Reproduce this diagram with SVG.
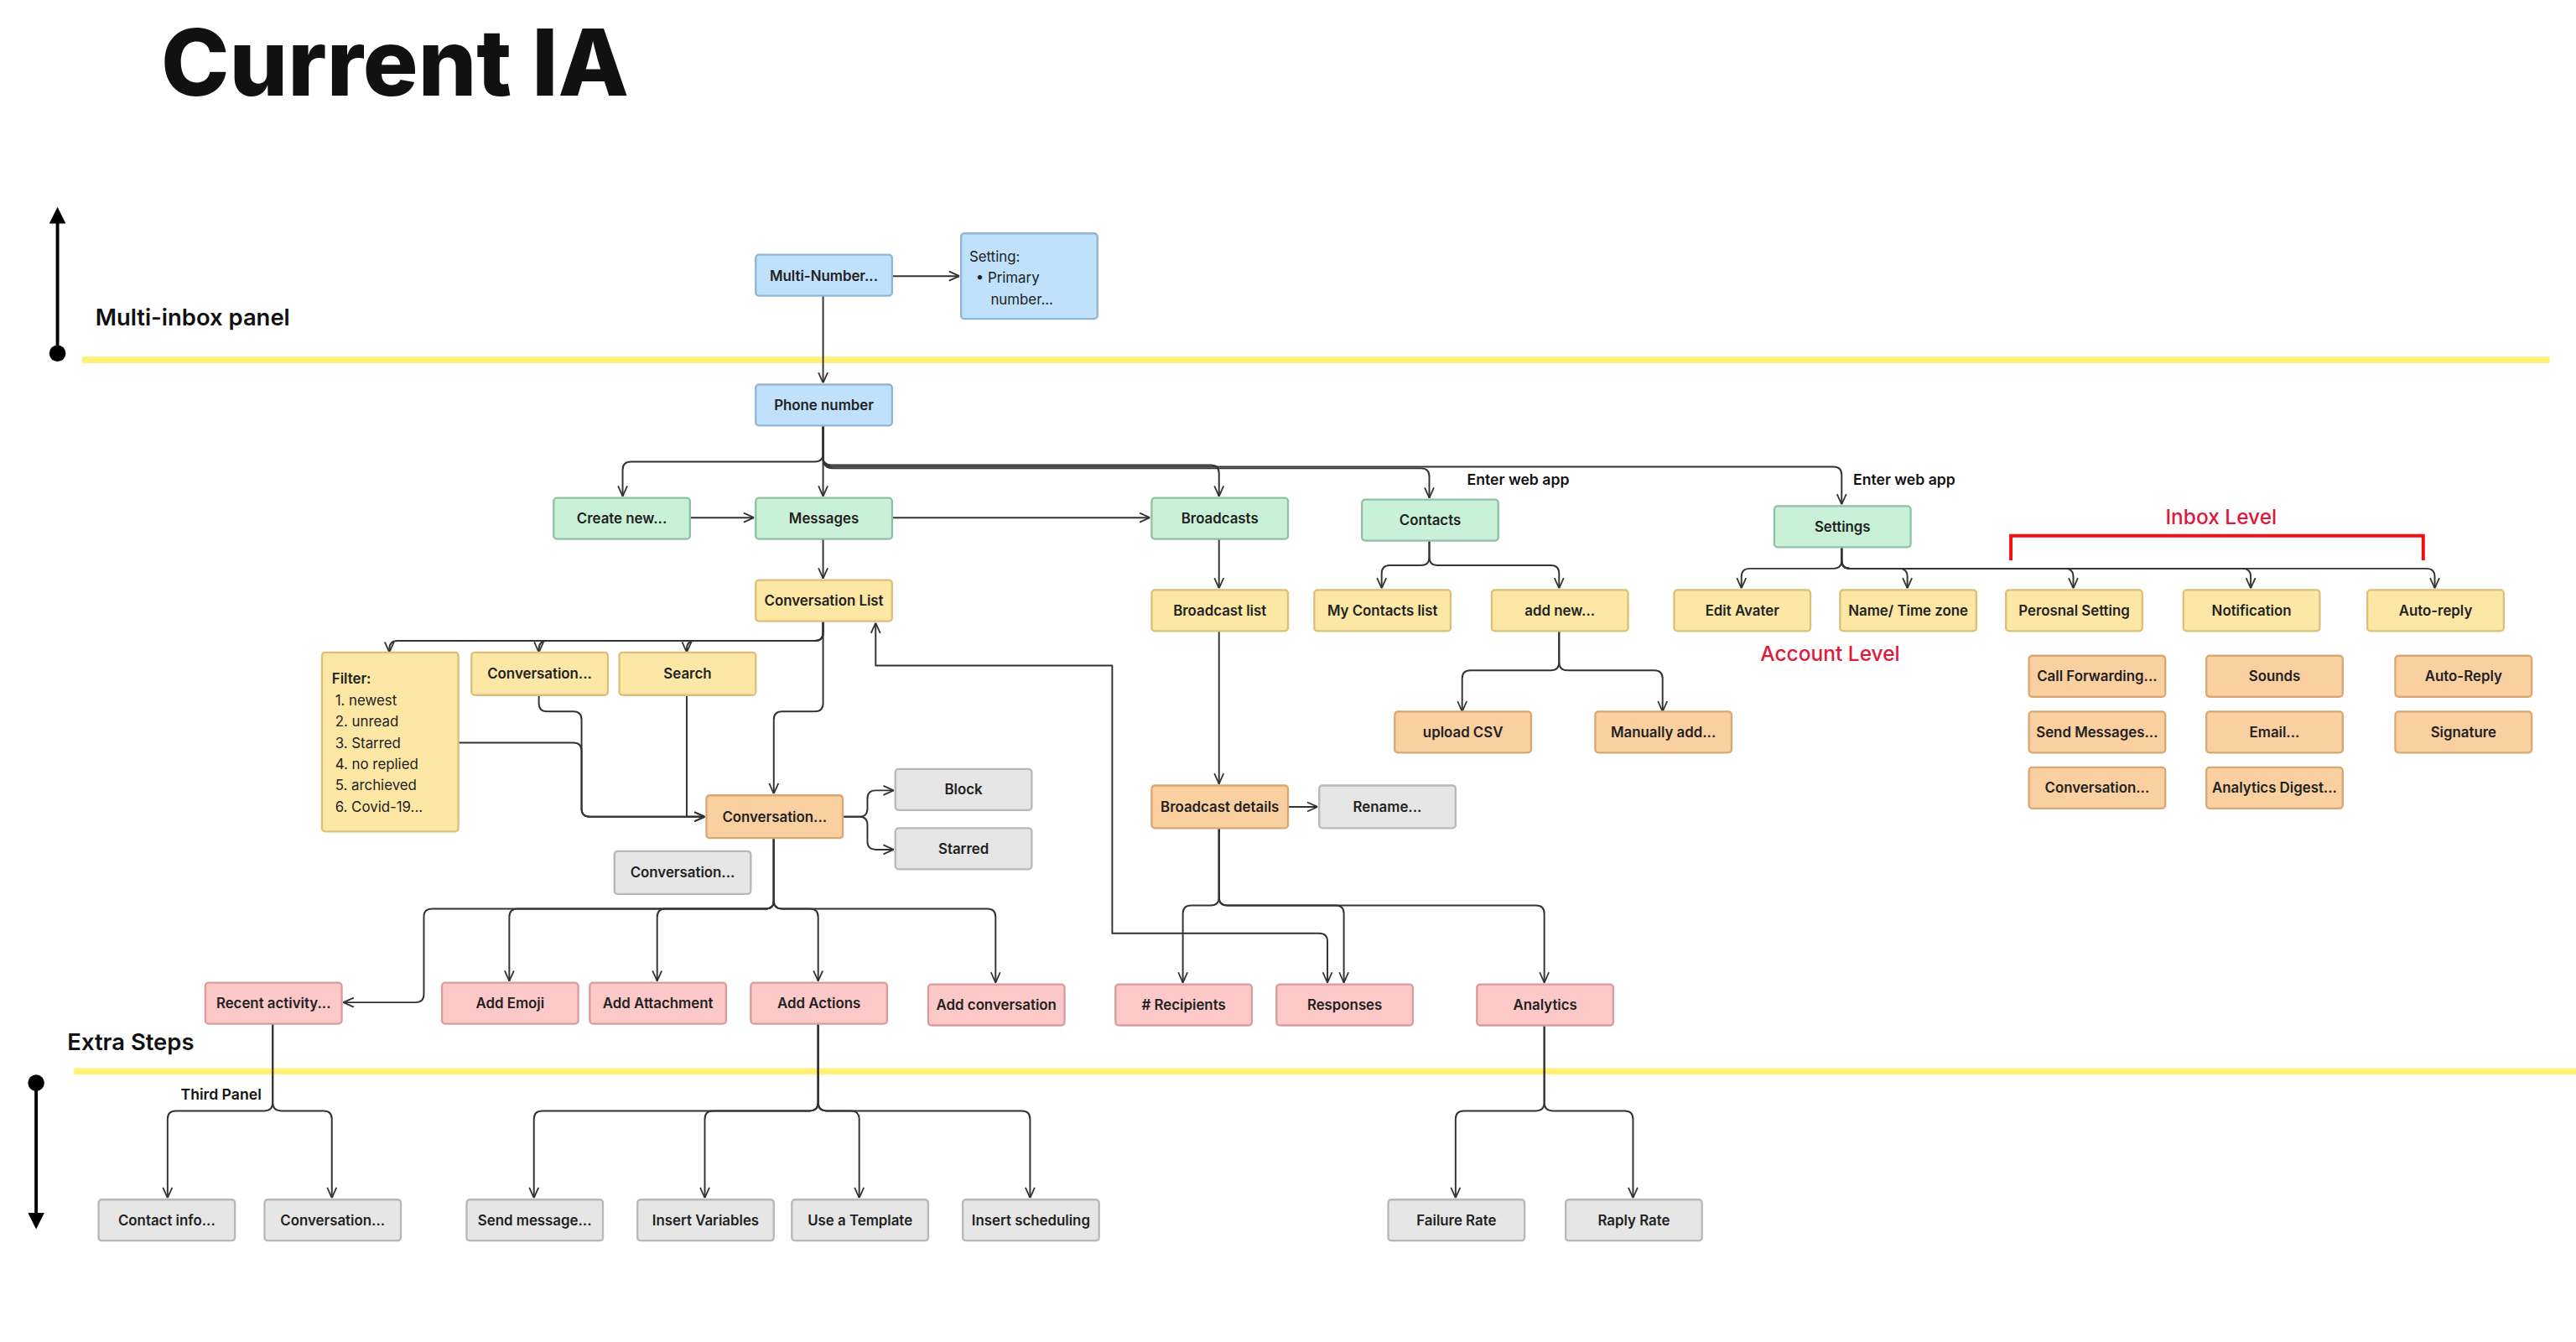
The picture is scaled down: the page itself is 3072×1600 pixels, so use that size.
<svg xmlns="http://www.w3.org/2000/svg" width="3072" height="1600" viewBox="0 0 3072 1600">
<defs>
<style>
.n rect{stroke-width:1.2}
.b rect{fill:#bfe1fb;stroke:#93b5d3}
.g rect{fill:#c9f1d8;stroke:#92c0a3}
.y rect{fill:#fde7a4;stroke:#dcc07a}
.o rect{fill:#fbd0a0;stroke:#d8a874}
.p rect{fill:#fcc8c8;stroke:#d89c9c}
.k rect{fill:#e6e6e6;stroke:#b8b8b8}
.n text{font-family:Inter,"Liberation Sans",sans-serif;font-size:8.6px;font-weight:600;fill:#222;text-anchor:middle;dominant-baseline:central}
.t{font-family:Inter,"Liberation Sans",sans-serif;fill:#111}
.c path{fill:none;stroke:#333;stroke-width:1;stroke-linejoin:round;marker-end:url(#a)}
</style>
<marker id="a" viewBox="0 0 10 10" refX="10" refY="5" markerWidth="7" markerHeight="7" orient="auto" markerUnits="userSpaceOnUse"><path d="M1,1 L10,5 L1,9" fill="none" stroke="#333" stroke-width="1.3"/></marker>
<marker id="s" viewBox="0 0 10 10" refX="10" refY="5" markerWidth="7" markerHeight="7" orient="auto-start-reverse" markerUnits="userSpaceOnUse"><path d="M1,1 L10,5 L1,9" fill="none" stroke="#333" stroke-width="1.3"/></marker>
</defs>
<rect width="3072" height="1600" fill="#fff"/>
<g transform="scale(1.9592)">
<text class="t" x="98" y="58" font-size="56" font-weight="800" style="font-family:Inter,'Liberation Sans',sans-serif">Current IA</text>
<line x1="50" y1="219" x2="1552" y2="219" stroke="#fff176" stroke-width="4"/>
<line x1="45" y1="652" x2="1568" y2="652" stroke="#fff176" stroke-width="4"/>
<line x1="35" y1="215" x2="35" y2="134" stroke="#000" stroke-width="2"/>
<path d="M30,136 L35,126 L40,136Z" fill="#000"/>
<circle cx="35" cy="215" r="5" fill="#000"/>
<line x1="22" y1="659" x2="22" y2="742" stroke="#000" stroke-width="2"/>
<path d="M17,738 L22,748 L27,738Z" fill="#000"/>
<circle cx="22" cy="659" r="5" fill="#000"/>
<text class="t" x="58" y="198" font-size="14" font-weight="600">Multi-inbox panel</text>
<text class="t" x="41" y="639" font-size="14" font-weight="600">Extra Steps</text>
<text class="t" x="110" y="669" font-size="9" font-weight="600">Third Panel</text>
<text class="t" x="893" y="295" font-size="9" font-weight="600">Enter web app</text>
<text class="t" x="1128" y="295" font-size="9" font-weight="600">Enter web app</text>
<text class="t" x="1352" y="319" font-size="12.5" font-weight="500" fill="#e0183c" text-anchor="middle" style="fill:#e0183c">Inbox Level</text>
<text class="t" x="1114" y="402" font-size="12.5" font-weight="500" text-anchor="middle" style="fill:#e0183c">Account Level</text>
<path d="M1224,341 V326 H1475 V341" fill="none" stroke="#f01010" stroke-width="2"/>

<g class="c">
<path d="M543,168 H584"/>
<path d="M501,180 V233"/>
<path d="M501,259 V276 Q501,281 496,281 H384 Q379,281 379,286 V302"/>
<path d="M501,259 V302"/>
<path d="M501,259 V278 Q501,283 506,283 H737 Q742,283 742,288 V302"/>
<path d="M501,259 V279 Q501,285 507,285 H865 Q870,285 870,290 V303"/>
<path d="M501,259 V279 Q501,284 506,284 H1116 Q1121,284 1121,289 V307"/>
<path d="M420,315 H459"/>
<path d="M543,315 H700"/>
<path d="M501,328 V352"/>
<path d="M501,378 V385 Q501,390 496,390 H242 Q237,390 237,395 V397"/>
<path d="M501,378 V385 Q501,390 496,390 H333 Q328,390 328,395 V397"/>
<path d="M501,378 V385 Q501,390 496,390 H423 Q418,390 418,395 V397"/>
<path d="M501,378 V428 Q501,433 496,433 H476 Q471,433 471,438 V483"/>
<path d="M328,423 V428 Q328,433 333,433 H349 Q354,433 354,438 V492 Q354,497 359,497 H429"/>
<path d="M279,452 H349 Q354,452 354,457 V492 Q354,497 359,497 H429"/>
<path d="M418,423 V497 H429"/>
<path d="M513,497 H523 Q528,497 528,492 V486 Q528,481 533,481 H544"/>
<path d="M513,497 H523 Q528,497 528,502 V512 Q528,517 533,517 H544"/>
<path d="M808,598 V573 Q808,568 803,568 H677 V405 H533 V379" style="marker-start:url(#s)"/>
<path d="M742,328 V358"/>
<path d="M742,384 V477"/>
<path d="M784,491 H802"/>
<path d="M742,504 V546 Q742,551 737,551 H725 Q720,551 720,556 V598"/>
<path d="M742,504 V546 Q742,551 747,551 H813 Q818,551 818,556 V598"/>
<path d="M742,504 V546 Q742,551 747,551 H935 Q940,551 940,556 V598"/>
<path d="M870,329 V339 Q870,344 865,344 H846 Q841,344 841,349 V358"/>
<path d="M870,329 V339 Q870,344 875,344 H944 Q949,344 949,349 V358"/>
<path d="M949,384 V403 Q949,408 944,408 H895 Q890,408 890,413 V433"/>
<path d="M949,384 V403 Q949,408 954,408 H1007 Q1012,408 1012,413 V433"/>
<path d="M1121,333 V341 Q1121,346 1116,346 H1065 Q1060,346 1060,351 V358"/>
<path d="M1121,333 V341 Q1121,346 1126,346 H1156 Q1161,346 1161,351 V358"/>
<path d="M1121,333 V341 Q1121,346 1126,346 H1257 Q1262,346 1262,351 V358"/>
<path d="M1121,333 V341 Q1121,346 1126,346 H1365 Q1370,346 1370,351 V358"/>
<path d="M1121,333 V341 Q1121,346 1126,346 H1477 Q1482,346 1482,351 V358"/>
<path d="M471,510 V548 Q471,553 466,553 H263 Q258,553 258,558 V605 Q258,610 253,610 H209"/>
<path d="M471,510 V548 Q471,553 466,553 H315 Q310,553 310,558 V597"/>
<path d="M471,510 V548 Q471,553 466,553 H405 Q400,553 400,558 V597"/>
<path d="M471,510 V548 Q471,553 476,553 H493 Q498,553 498,558 V597"/>
<path d="M471,510 V548 Q471,553 476,553 H601 Q606,553 606,558 V598"/>
<path d="M166,623 V671 Q166,676 161,676 H107 Q102,676 102,681 V729"/>
<path d="M166,623 V671 Q166,676 171,676 H197 Q202,676 202,681 V729"/>
<path d="M498,623 V671 Q498,676 493,676 H330 Q325,676 325,681 V729"/>
<path d="M498,623 V671 Q498,676 493,676 H434 Q429,676 429,681 V729"/>
<path d="M498,623 V671 Q498,676 503,676 H518 Q523,676 523,681 V729"/>
<path d="M498,623 V671 Q498,676 503,676 H622 Q627,676 627,681 V729"/>
<path d="M940,624 V671 Q940,676 935,676 H891 Q886,676 886,681 V729"/>
<path d="M940,624 V671 Q940,676 945,676 H989 Q994,676 994,681 V729"/>
</g>

<g id="multi-number" class="n b"><rect x="460" y="155" width="83" height="25" rx="2"/><text x="501.5" y="168">Multi-Number...</text></g>
<g id="setting-box" class="n b"><rect x="585" y="142" width="83" height="52" rx="2"/>
<text x="590" y="156" style="text-anchor:start;font-weight:400">Setting:</text>
<text x="594" y="169" style="text-anchor:start;font-weight:400">•  Primary</text>
<text x="603" y="182" style="text-anchor:start;font-weight:400">number...</text></g>
<g id="phone-number" class="n b"><rect x="460" y="234" width="83" height="25" rx="2"/><text x="501.5" y="246.5">Phone number</text></g>
<g id="create-new" class="n g"><rect x="337" y="303" width="83" height="25" rx="2"/><text x="378.5" y="315.5">Create new...</text></g>
<g id="messages" class="n g"><rect x="460" y="303" width="83" height="25" rx="2"/><text x="501.5" y="315.5">Messages</text></g>
<g id="broadcasts" class="n g"><rect x="701" y="303" width="83" height="25" rx="2"/><text x="742.5" y="315.5">Broadcasts</text></g>
<g id="contacts" class="n g"><rect x="829" y="304" width="83" height="25" rx="2"/><text x="870.5" y="316.5">Contacts</text></g>
<g id="settings" class="n g"><rect x="1080" y="308" width="83" height="25" rx="2"/><text x="1121.5" y="320.5">Settings</text></g>
<g id="conversation-list" class="n y"><rect x="460" y="353" width="83" height="25" rx="2"/><text x="501.5" y="365.5">Conversation List</text></g>
<g id="broadcast-list" class="n y"><rect x="701" y="359" width="83" height="25" rx="2"/><text x="742.5" y="371.5">Broadcast list</text></g>
<g id="my-contacts" class="n y"><rect x="800" y="359" width="83" height="25" rx="2"/><text x="841.5" y="371.5">My Contacts list</text></g>
<g id="add-new" class="n y"><rect x="908" y="359" width="83" height="25" rx="2"/><text x="949.5" y="371.5">add new...</text></g>
<g id="edit-avater" class="n y"><rect x="1019" y="359" width="83" height="25" rx="2"/><text x="1060.5" y="371.5">Edit Avater</text></g>
<g id="name-timezone" class="n y"><rect x="1120" y="359" width="83" height="25" rx="2"/><text x="1161.5" y="371.5">Name/ Time zone</text></g>
<g id="personal-setting" class="n y"><rect x="1221" y="359" width="83" height="25" rx="2"/><text x="1262.5" y="371.5">Perosnal Setting</text></g>
<g id="notification" class="n y"><rect x="1329" y="359" width="83" height="25" rx="2"/><text x="1370.5" y="371.5">Notification</text></g>
<g id="auto-reply" class="n y"><rect x="1441" y="359" width="83" height="25" rx="2"/><text x="1482.5" y="371.5">Auto-reply</text></g>
<g id="call-forwarding" class="n o"><rect x="1235" y="399" width="83" height="25" rx="2"/><text x="1276.5" y="411.5">Call Forwarding...</text></g>
<g id="sounds" class="n o"><rect x="1343" y="399" width="83" height="25" rx="2"/><text x="1384.5" y="411.5">Sounds</text></g>
<g id="auto-reply-2" class="n o"><rect x="1458" y="399" width="83" height="25" rx="2"/><text x="1499.5" y="411.5">Auto-Reply</text></g>
<g id="send-messages" class="n o"><rect x="1235" y="433" width="83" height="25" rx="2"/><text x="1276.5" y="445.5">Send Messages...</text></g>
<g id="email" class="n o"><rect x="1343" y="433" width="83" height="25" rx="2"/><text x="1384.5" y="445.5">Email...</text></g>
<g id="signature" class="n o"><rect x="1458" y="433" width="83" height="25" rx="2"/><text x="1499.5" y="445.5">Signature</text></g>
<g id="conversation-s" class="n o"><rect x="1235" y="467" width="83" height="25" rx="2"/><text x="1276.5" y="479.5">Conversation...</text></g>
<g id="analytics-digest" class="n o"><rect x="1343" y="467" width="83" height="25" rx="2"/><text x="1384.5" y="479.5">Analytics Digest...</text></g>
<g id="upload-csv" class="n o"><rect x="849" y="433" width="83" height="25" rx="2"/><text x="890.5" y="445.5">upload CSV</text></g>
<g id="manually-add" class="n o"><rect x="971" y="433" width="83" height="25" rx="2"/><text x="1012.5" y="445.5">Manually add...</text></g>
<g id="filter" class="n y"><rect x="196" y="397" width="83" height="109" rx="2"/>
<text x="202" y="413" style="text-anchor:start">Filter:</text>
<text x="204" y="426" style="text-anchor:start;font-weight:400">1. newest</text>
<text x="204" y="439" style="text-anchor:start;font-weight:400">2. unread</text>
<text x="204" y="452" style="text-anchor:start;font-weight:400">3. Starred</text>
<text x="204" y="465" style="text-anchor:start;font-weight:400">4. no replied</text>
<text x="204" y="478" style="text-anchor:start;font-weight:400">5. archieved</text>
<text x="204" y="491" style="text-anchor:start;font-weight:400">6. Covid-19...</text></g>
<g id="conversation-y" class="n y"><rect x="287" y="397" width="83" height="26" rx="2"/><text x="328.5" y="410">Conversation...</text></g>
<g id="search" class="n y"><rect x="377" y="397" width="83" height="26" rx="2"/><text x="418.5" y="410">Search</text></g>
<g id="conversation-o" class="n o"><rect x="430" y="484" width="83" height="26" rx="2"/><text x="471.5" y="497">Conversation...</text></g>
<g id="block" class="n k"><rect x="545" y="468" width="83" height="25" rx="2"/><text x="586.5" y="480.5">Block</text></g>
<g id="starred" class="n k"><rect x="545" y="504" width="83" height="25" rx="2"/><text x="586.5" y="516.5">Starred</text></g>
<g id="conversation-k" class="n k"><rect x="374" y="518" width="83" height="26" rx="2"/><text x="415.5" y="531">Conversation...</text></g>
<g id="broadcast-details" class="n o"><rect x="701" y="478" width="83" height="26" rx="2"/><text x="742.5" y="491">Broadcast details</text></g>
<g id="rename" class="n k"><rect x="803" y="478" width="83" height="26" rx="2"/><text x="844.5" y="491">Rename...</text></g>
<g id="recent-activity" class="n p"><rect x="125" y="598" width="83" height="25" rx="2"/><text x="166.5" y="610.5">Recent activity...</text></g>
<g id="add-emoji" class="n p"><rect x="269" y="598" width="83" height="25" rx="2"/><text x="310.5" y="610.5">Add Emoji</text></g>
<g id="add-attachment" class="n p"><rect x="359" y="598" width="83" height="25" rx="2"/><text x="400.5" y="610.5">Add Attachment</text></g>
<g id="add-actions" class="n p"><rect x="457" y="598" width="83" height="25" rx="2"/><text x="498.5" y="610.5">Add Actions</text></g>
<g id="add-conversation" class="n p"><rect x="565" y="599" width="83" height="25" rx="2"/><text x="606.5" y="611.5">Add conversation</text></g>
<g id="recipients" class="n p"><rect x="679" y="599" width="83" height="25" rx="2"/><text x="720.5" y="611.5"># Recipients</text></g>
<g id="responses" class="n p"><rect x="777" y="599" width="83" height="25" rx="2"/><text x="818.5" y="611.5">Responses</text></g>
<g id="analytics" class="n p"><rect x="899" y="599" width="83" height="25" rx="2"/><text x="940.5" y="611.5">Analytics</text></g>
<g id="contact-info" class="n k"><rect x="60" y="730" width="83" height="25" rx="2"/><text x="101.5" y="742.5">Contact info...</text></g>
<g id="conversation-b" class="n k"><rect x="161" y="730" width="83" height="25" rx="2"/><text x="202.5" y="742.5">Conversation...</text></g>
<g id="send-message" class="n k"><rect x="284" y="730" width="83" height="25" rx="2"/><text x="325.5" y="742.5">Send message...</text></g>
<g id="insert-variables" class="n k"><rect x="388" y="730" width="83" height="25" rx="2"/><text x="429.5" y="742.5">Insert Variables</text></g>
<g id="use-template" class="n k"><rect x="482" y="730" width="83" height="25" rx="2"/><text x="523.5" y="742.5">Use a Template</text></g>
<g id="insert-scheduling" class="n k"><rect x="586" y="730" width="83" height="25" rx="2"/><text x="627.5" y="742.5">Insert scheduling</text></g>
<g id="failure-rate" class="n k"><rect x="845" y="730" width="83" height="25" rx="2"/><text x="886.5" y="742.5">Failure Rate</text></g>
<g id="raply-rate" class="n k"><rect x="953" y="730" width="83" height="25" rx="2"/><text x="994.5" y="742.5">Raply Rate</text></g>
</g>
</svg>
